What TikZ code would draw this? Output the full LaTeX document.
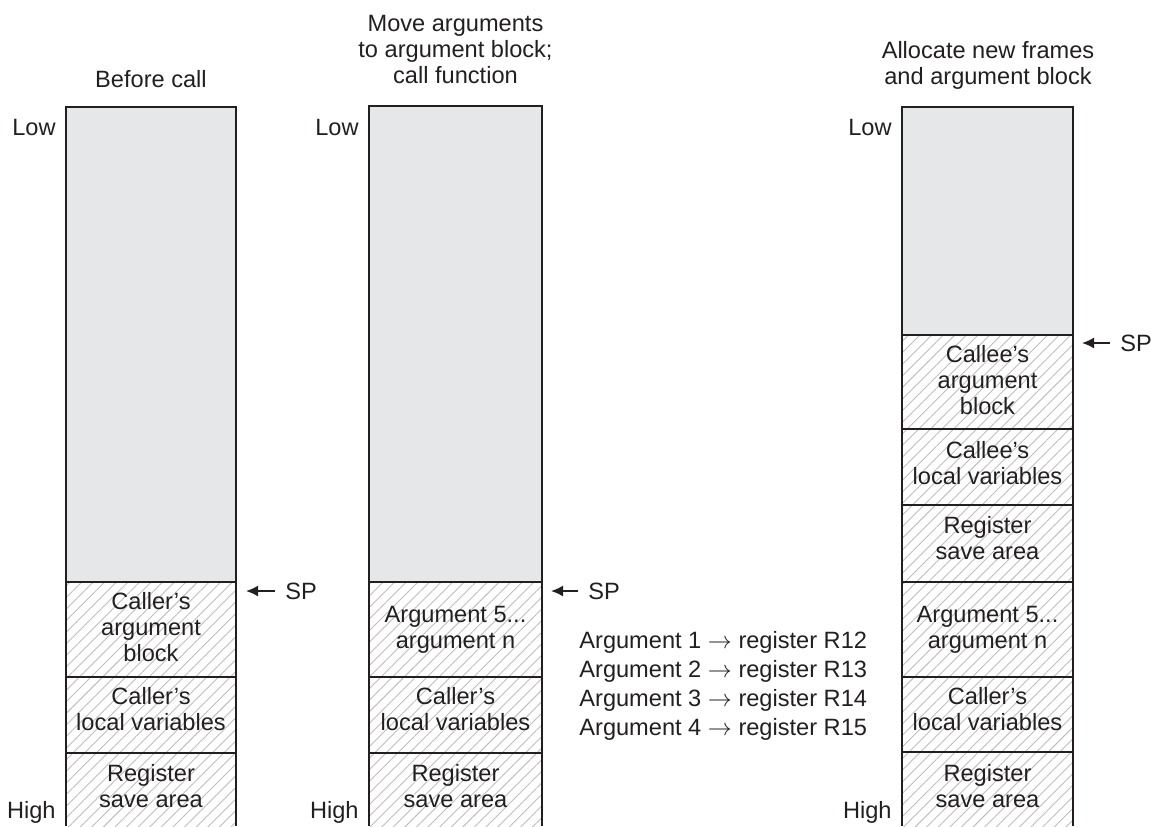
\documentclass[tikz,border=0pt]{standalone}
\usepackage{fontspec}
\setmainfont{Liberation Sans}
\usetikzlibrary{patterns.meta,arrows.meta}
\definecolor{stackgray}{RGB}{230,231,232}
\definecolor{ink}{RGB}{35,31,32}
\definecolor{hatchgray}{RGB}{190,190,190}
\begin{document}
\begin{tikzpicture}[x=0.5pt,y=-0.5pt,
  graycell/.style={fill=stackgray, draw=none, inner sep=0pt, outer sep=0pt},
  hatchcell/.style={pattern={Lines[angle=45,distance=4.1pt,line width=0.45pt]}, pattern color=hatchgray, draw=none, inner sep=0pt, outer sep=0pt},
  divider/.style={draw=ink, line width=0.65pt},
  frame/.style={draw=ink, line width=1pt, line join=miter},
  txt/.style={align=center, inner sep=0pt, text=ink, font=\fontsize{11.8}{13}\selectfont},
  sparrow/.style={draw=ink, line width=0.8pt, -{Latex[length=6pt,width=5.5pt]}}]
\useasboundingbox (0,0) rectangle (1151,826);

% ---------- column 1 : before call ----------
\node[graycell, minimum width=85pt, minimum height=237.5pt] (c1g) at (151,344.5) {};
\node[hatchcell, minimum width=85pt, minimum height=47.5pt] (c1a) at (151,629.5) {};
\node[hatchcell, minimum width=85pt, minimum height=38pt] (c1b) at (151,715) {};
\node[hatchcell, minimum width=85pt, minimum height=36.5pt] (c1c) at (151,789.5) {};
\draw[divider] (c1g.south west) -- (c1g.south east);
\draw[divider] (c1a.south west) -- (c1a.south east);
\draw[divider] (c1b.south west) -- (c1b.south east);
\draw[frame] (c1c.south west) -- (c1g.north west) -- (c1g.north east) -- (c1c.south east);
\node[txt] (t1a) at (151,627.5) {Caller’s\\argument\\block};
\node[txt] (t1b) at (151,709) {Caller’s\\local variables};
\node[txt] (t1c) at (151,786) {Register\\save area};
\node[txt, anchor=base] (title1) at (151,87) {Before call};
\node[txt, anchor=base east] (low1) at (56,135) {Low};
\node[txt, anchor=base east] (high1) at (56,818) {High};
\node[txt, anchor=west, inner xsep=5pt] (sp1) at (275,591) {SP};
\coordinate (tip1) at (246,591);
\draw[sparrow] (sp1.west) -- (tip1);

% ---------- column 2 : move arguments ----------
\node[graycell, minimum width=86.5pt, minimum height=238pt] (c2g) at (455.5,344) {};
\node[hatchcell, minimum width=86.5pt, minimum height=47.5pt] (c2a) at (455.5,629.5) {};
\node[hatchcell, minimum width=86.5pt, minimum height=38pt] (c2b) at (455.5,715) {};
\node[hatchcell, minimum width=86.5pt, minimum height=36.5pt] (c2c) at (455.5,789.5) {};
\draw[divider] (c2g.south west) -- (c2g.south east);
\draw[divider] (c2a.south west) -- (c2a.south east);
\draw[divider] (c2b.south west) -- (c2b.south east);
\draw[frame] (c2c.south west) -- (c2g.north west) -- (c2g.north east) -- (c2c.south east);
\node[txt] (t2a) at (455.5,630) {Argument 5...\\argument n};
\node[txt] (t2b) at (455.5,709) {Caller’s\\local variables};
\node[txt] (t2c) at (455.5,786) {Register\\save area};
\node[txt] (title2) at (455.5,49.5) {Move arguments\\to argument block;\\call function};
\node[txt, anchor=base east] (low2) at (359,135) {Low};
\node[txt, anchor=base east] (high2) at (359,818) {High};
\node[txt, anchor=west, inner xsep=5pt] (sp2) at (578,591) {SP};
\coordinate (tip2) at (551,591);
\draw[sparrow] (sp2.west) -- (tip2);
\node[txt, align=left, anchor=north west, font=\fontsize{11.8}{14.5}\selectfont] (args) at (579,631)
  {Argument 1 $\rightarrow$ register R12\\Argument 2 $\rightarrow$ register R13\\Argument 3 $\rightarrow$ register R14\\Argument 4 $\rightarrow$ register R15};

% ---------- column 3 : allocate new frames ----------
\node[graycell, minimum width=85.5pt, minimum height=114pt] (c3g) at (987.5,221) {};
\node[hatchcell, minimum width=85.5pt, minimum height=47pt] (c3d) at (987.5,382) {};
\node[hatchcell, minimum width=85.5pt, minimum height=38pt] (c3e) at (987.5,467) {};
\node[hatchcell, minimum width=85.5pt, minimum height=38.5pt] (c3f) at (987.5,543.5) {};
\node[hatchcell, minimum width=85.5pt, minimum height=47.5pt] (c3a) at (987.5,629.5) {};
\node[hatchcell, minimum width=85.5pt, minimum height=37.5pt] (c3b) at (987.5,714.5) {};
\node[hatchcell, minimum width=85.5pt, minimum height=37pt] (c3c) at (987.5,789) {};
\draw[divider] (c3g.south west) -- (c3g.south east);
\draw[divider] (c3d.south west) -- (c3d.south east);
\draw[divider] (c3e.south west) -- (c3e.south east);
\draw[divider] (c3f.south west) -- (c3f.south east);
\draw[divider] (c3a.south west) -- (c3a.south east);
\draw[divider] (c3b.south west) -- (c3b.south east);
\draw[frame] (c3c.south west) -- (c3g.north west) -- (c3g.north east) -- (c3c.south east);
\node[txt] (t3d) at (987.5,380.5) {Callee’s\\argument\\block};
\node[txt] (t3e) at (987.5,463) {Callee’s\\local variables};
\node[txt] (t3f) at (987.5,538) {Register\\save area};
\node[txt] (t3a) at (987.5,630) {Argument 5...\\argument n};
\node[txt] (t3b) at (987.5,709) {Caller’s\\local variables};
\node[txt] (t3c) at (987.5,786) {Register\\save area};
\node[txt] (title3) at (988,65.5) {Allocate new frames\\and argument block};
\node[txt, anchor=base east] (low3) at (892,135) {Low};
\node[txt, anchor=base east] (high3) at (892,818) {High};
\node[txt, anchor=west, inner xsep=5pt] (sp3) at (1110,343) {SP};
\coordinate (tip3) at (1082,343);
\draw[sparrow] (sp3.west) -- (tip3);
\end{tikzpicture}
\end{document}
